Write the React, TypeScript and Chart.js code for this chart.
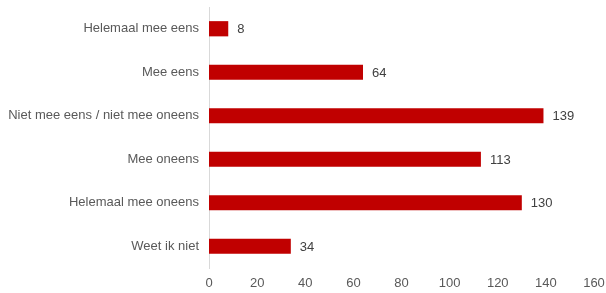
import React, { useEffect, useRef } from "react";
import { Chart, registerables } from "chart.js";

Chart.register(...registerables);

const categories = [
  "Helemaal mee eens",
  "Mee eens",
  "Niet mee eens / niet mee oneens",
  "Mee oneens",
  "Helemaal mee oneens",
  "Weet ik niet",
];
const values = [8, 64, 139, 113, 130, 34];
const xTicks = [0, 20, 40, 60, 80, 100, 120, 140, 160];

const FONT = "'Liberation Sans', Arial, sans-serif";

const valueLabels = {
  id: "valueLabels",
  afterDatasetsDraw(chart: any) {
    const ctx = chart.ctx;
    const meta = chart.getDatasetMeta(0);
    ctx.save();
    ctx.font = `13px ${FONT}`;
    ctx.fillStyle = "#404040";
    ctx.textAlign = "left";
    ctx.textBaseline = "middle";
    meta.data.forEach((bar: any, i: number) => {
      ctx.fillText(String(values[i]), bar.x + 9, bar.y + 1);
    });
    ctx.restore();
  },
};

export default function App() {
  const ref = useRef<HTMLCanvasElement>(null);
  useEffect(() => {
    const chart = new Chart(ref.current!, {
      type: "bar",
      data: {
        labels: categories,
        datasets: [
          {
            data: values,
            backgroundColor: "#c00000",
            borderWidth: 0,
            barPercentage: 0.35,
            categoryPercentage: 1,
          },
        ],
      },
      options: {
        indexAxis: "y",
        animation: false,
        responsive: false,
        maintainAspectRatio: false,
        layout: { padding: { top: 7, right: 12, left: 0, bottom: 0 } },
        plugins: { legend: { display: false }, tooltip: { enabled: false } },
        scales: {
          x: {
            min: 0,
            max: 160,
            afterBuildTicks(scale: any) {
              scale.ticks = xTicks.map((v) => ({ value: v }));
            },
            grid: { display: false, drawTicks: false },
            border: { display: false },
            ticks: {
              font: { family: FONT, size: 13 },
              color: "#595959",
              padding: 8,
            },
            afterFit(scale: any) {
              scale.height = 25;
              scale.paddingLeft = 0;
              scale.paddingRight = 0;
            },
          },
          y: {
            grid: { display: false, drawTicks: false },
            border: { display: true, color: "#d9d9d9", width: 1 },
            ticks: {
              font: { family: FONT, size: 13 },
              color: "#595959",
              padding: 10,
            },
            afterFit(scale: any) {
              scale.width = 209;
              scale.paddingTop = 0;
              scale.paddingBottom = 0;
            },
          },
        },
      },
      plugins: [valueLabels],
    });
    return () => chart.destroy();
  }, []);
  return (
    <div style={{ position: "fixed", left: 0, top: 0, width: 606, height: 293, background: "#fff" }}>
      <canvas ref={ref} width={606} height={293} style={{ width: 606, height: 293 }} />
    </div>
  );
}
